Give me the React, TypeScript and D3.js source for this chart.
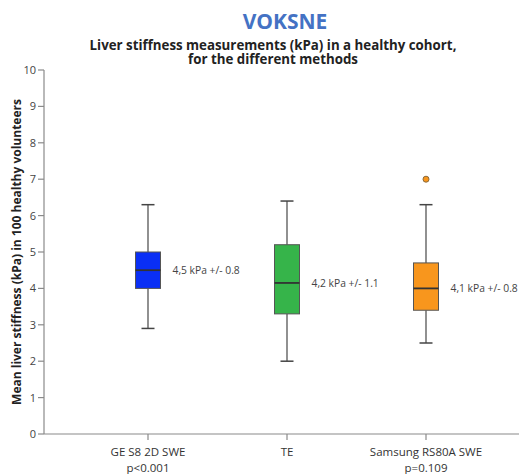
import React from "react";
import * as d3 from "d3";

const categories = ["GE S8 2D SWE", "TE", "Samsung RS80A SWE"];
const pValues = ["p<0.001", "", "p=0.109"];
const whiskerLow = [2.9, 2.0, 2.5];
const q1 = [4.0, 3.3, 3.4];
const medians = [4.5, 4.15, 4.0];
const q3 = [5.0, 5.2, 4.7];
const whiskerHigh = [6.3, 6.4, 6.3];
const outliers = [[], [], [7.0]];
const annotations = ["4,5 kPa +/- 0.8", "4,2 kPa +/- 1.1", "4,1 kPa +/- 0.8"];
const colors = ["#0a2ff5", "#36b44a", "#f8961d"];
const yTicks = [0, 1, 2, 3, 4, 5, 6, 7, 8, 9, 10];

const W = 521;
const H = 474;
const font = "'Open Sans', 'DejaVu Sans', sans-serif";

export default function App() {
  const x = d3.scalePoint<string>().domain(categories).range([148, 426]);
  const y = d3.scaleLinear().domain([0, 10]).range([434, 70]);
  const axisColor = "#8a8a8a";
  const boxW = 25;
  const capW = 13;
  return (
    <svg
      width={W}
      height={H}
      style={{ position: "absolute", left: 0, top: 0, background: "#fff" }}
      fontFamily={font}
    >
      <text x={285} y={29} textAnchor="middle" fontSize={21} fontWeight="bold" fill="#4472c4">
        VOKSNE
      </text>
      <text textAnchor="middle" fontSize={13.3} fontWeight="bold" fill="#222">
        <tspan x={273} y={50}>Liver stiffness measurements (kPa) in a healthy cohort,</tspan>
        <tspan x={273} y={64}>for the different methods</tspan>
      </text>
      <text
        transform={`translate(21,252) rotate(-90)`}
        textAnchor="middle"
        fontSize={12}
        fontWeight="bold"
        fill="#222"
      >
        Mean liver stiffness (kPa) in 100 healthy volunteers
      </text>
      <line x1={44} x2={44} y1={y(10)} y2={y(0)} stroke={axisColor} strokeWidth={1.2} />
      <line x1={44} x2={519} y1={y(0)} y2={y(0)} stroke={axisColor} strokeWidth={1.2} />
      {yTicks.map((t) => (
        <g key={t}>
          <line x1={38} x2={44} y1={y(t)} y2={y(t)} stroke={axisColor} strokeWidth={1.2} />
          <text x={36} y={y(t) + 4} textAnchor="end" fontSize={11} fill="#444">
            {t}
          </text>
        </g>
      ))}
      {categories.map((c, i) => {
        const cx = x(c)!;
        return (
          <g key={c}>
            <line x1={cx} x2={cx} y1={y(0)} y2={y(0) + 6} stroke={axisColor} strokeWidth={1.2} />
            <text x={cx} y={456} textAnchor="middle" fontSize={11.5} fill="#333">
              {c}
            </text>
            {pValues[i] && (
              <text x={cx} y={472} textAnchor="middle" fontSize={11.5} fill="#333">
                {pValues[i]}
              </text>
            )}
            <line x1={cx} x2={cx} y1={y(whiskerHigh[i])} y2={y(q3[i])} stroke="#555" strokeWidth={1.3} />
            <line x1={cx} x2={cx} y1={y(q1[i])} y2={y(whiskerLow[i])} stroke="#555" strokeWidth={1.3} />
            <line x1={cx - capW / 2} x2={cx + capW / 2} y1={y(whiskerHigh[i])} y2={y(whiskerHigh[i])} stroke="#444" strokeWidth={1.5} />
            <line x1={cx - capW / 2} x2={cx + capW / 2} y1={y(whiskerLow[i])} y2={y(whiskerLow[i])} stroke="#444" strokeWidth={1.5} />
            <rect
              x={cx - boxW / 2}
              y={y(q3[i])}
              width={boxW}
              height={y(q1[i]) - y(q3[i])}
              fill={colors[i]}
              stroke="#555"
              strokeWidth={1}
            />
            <line x1={cx - boxW / 2} x2={cx + boxW / 2} y1={y(medians[i])} y2={y(medians[i])} stroke="#333" strokeWidth={1.8} />
            {outliers[i].map((o, k) => (
              <circle key={k} cx={cx} cy={y(o)} r={3} fill={colors[i]} stroke="#8a6a3a" strokeWidth={1} />
            ))}
            <text x={cx + boxW / 2 + 12} y={y(medians[i]) + 4} fontSize={10.3} fill="#444">
              {annotations[i]}
            </text>
          </g>
        );
      })}
    </svg>
  );
}
